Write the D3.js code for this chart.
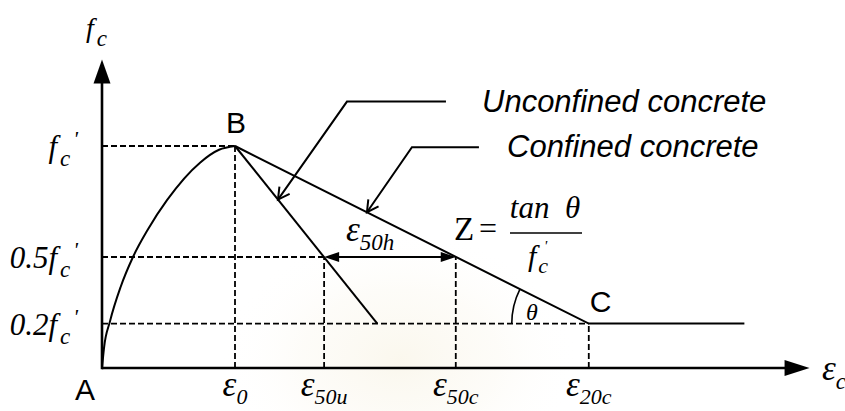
<!DOCTYPE html>
<html><head><meta charset="utf-8">
<script src="https://cdn.jsdelivr.net/npm/d3@7"></script>
<style>html,body{margin:0;padding:0;background:#fff;} svg{display:block;}</style>
</head><body><svg id="chart" width="845" height="411"></svg>
<script>
// Ascending branch A–B, normalised strain (ε/ε0) and stress (fc/f'c)
const ascendingStrain = [0, 0.015, 0.06, 0.14, 0.233, 0.346, 0.49, 0.737, 0.88, 1];
const ascendingStress = [0, 0.09, 0.21, 0.365, 0.5, 0.625, 0.757, 0.925, 0.983, 1];
// Descending branches
const unconfinedStrain = [1, 2.07];
const unconfinedStress = [1, 0.2];
const confinedStrain = [1, 3.66, 4.83];
const confinedStress = [1, 0.2, 0.2];
// Reference strains along the horizontal axis
const strainTickValues = [1, 1.67, 2.66, 3.66];
const strainTickSubs = ["0", "50u", "50c", "20c"];
const strainTickStress = [1, 0.5, 0.5, 0.2];
// Reference stresses along the vertical axis
const stressTickValues = [1, 0.5, 0.2];
const stressTickPrefix = ["", "0.5", "0.2"];
const stressTickStrain = [1, 1.67, 3.66];
// Axis extents
const axisMaxStrain = 5.32, axisMaxStress = 1.39;
// Where the leader arrows touch the branches
const unconfinedPointer = 1.323, confinedPointer = 1.992;

const serif = "'Liberation Serif','Times New Roman',serif";
const sans = "'Liberation Sans',Arial,sans-serif";
const ink = "#000";

const svg = d3.select("#chart");
svg.append("rect").attr("width", 845).attr("height", 411).attr("fill", "#fff");

// faint background emblem haze
const defs = svg.append("defs");
const grad = defs.append("radialGradient").attr("id", "haze");
grad.append("stop").attr("offset", "0%").attr("stop-color", "#f5eed8").attr("stop-opacity", 0.45);
grad.append("stop").attr("offset", "55%").attr("stop-color", "#f8f3e4").attr("stop-opacity", 0.25);
grad.append("stop").attr("offset", "100%").attr("stop-color", "#fff").attr("stop-opacity", 0);
svg.append("ellipse").attr("cx", 400).attr("cy", 360).attr("rx", 180).attr("ry", 130).attr("fill", "url(#haze)");

const x = d3.scaleLinear().domain([0, 1]).range([102, 235]);
const y = d3.scaleLinear().domain([0, 1]).range([368, 146]);

const zip = (a, b) => a.map((v, i) => [v, b[i]]);
const straight = d3.line().x(d => x(d[0])).y(d => y(d[1]));
const smooth = d3.line().x(d => x(d[0])).y(d => y(d[1])).curve(d3.curveMonotoneX);

// dashed reference lines
const dashed = svg.append("g").attr("stroke", ink).attr("stroke-width", 1.8)
  .attr("stroke-dasharray", "6,3").attr("fill", "none");
stressTickValues.forEach((v, i) => {
  dashed.append("line").attr("x1", x(0)).attr("x2", x(stressTickStrain[i]))
    .attr("y1", y(v)).attr("y2", y(v));
});
strainTickValues.forEach((v, i) => {
  dashed.append("line").attr("x1", x(v)).attr("x2", x(v))
    .attr("y1", y(0)).attr("y2", y(strainTickStress[i]));
});

// stress–strain branches
const curves = svg.append("g").attr("stroke", ink).attr("stroke-width", 2).attr("fill", "none");
curves.append("path").attr("d", smooth(zip(ascendingStrain, ascendingStress)));
curves.append("path").attr("d", straight(zip(unconfinedStrain, unconfinedStress)));
curves.append("path").attr("d", straight(zip(confinedStrain, confinedStress)));

// axes with arrowheads
const axes = svg.append("g");
axes.append("line").attr("x1", x(0)).attr("y1", y(0)).attr("x2", x(axisMaxStrain) - 10).attr("y2", y(0))
  .attr("stroke", ink).attr("stroke-width", 2.6);
axes.append("line").attr("x1", x(0)).attr("y1", y(0) + 1.3).attr("x2", x(0)).attr("y2", y(axisMaxStress) + 10)
  .attr("stroke", ink).attr("stroke-width", 2.6);
function filledHead(tip, from, len, half) {
  const dx = tip[0] - from[0], dy = tip[1] - from[1], L = Math.hypot(dx, dy);
  const ux = dx / L, uy = dy / L, bx = tip[0] - ux * len, by = tip[1] - uy * len;
  return `M${tip[0]},${tip[1]}L${bx - uy * half},${by + ux * half}L${bx + uy * half},${by - ux * half}Z`;
}
axes.append("path").attr("d", filledHead([x(axisMaxStrain), y(0)], [x(0), y(0)], 25, 8)).attr("fill", ink);
axes.append("path").attr("d", filledHead([x(0), y(axisMaxStress)], [x(0), y(0)], 24, 8.5)).attr("fill", ink);

// ε50h double arrow
const a0 = [x(strainTickValues[1]), y(0.5)], a1 = [x(strainTickValues[2]), y(0.5)];
svg.append("line").attr("x1", a0[0] + 8).attr("x2", a1[0] - 8).attr("y1", a0[1]).attr("y2", a1[1])
  .attr("stroke", ink).attr("stroke-width", 2);
svg.append("path").attr("d", filledHead(a0, a1, 15, 5)).attr("fill", ink);
svg.append("path").attr("d", filledHead(a1, a0, 15, 5)).attr("fill", ink);

// angle θ at C
const cPt = [x(confinedStrain[1]), y(confinedStress[1])];
const slopeAngle = Math.atan2(y(confinedStress[0]) - cPt[1], cPt[0] - x(confinedStrain[0]));
const arc = d3.path();
arc.arc(cPt[0], cPt[1], 77, Math.PI, Math.PI - slopeAngle, false);
svg.append("path").attr("d", arc.toString()).attr("fill", "none").attr("stroke", ink).attr("stroke-width", 1.6);

// leader arrows
function leader(tip, bend, end) {
  svg.append("path").attr("d", d3.line()([end, bend, tip]))
    .attr("fill", "none").attr("stroke", ink).attr("stroke-width", 2);
  const ang = Math.atan2(tip[1] - bend[1], tip[0] - bend[0]);
  const arms = [0.5, -0.5].map(s => [tip[0] - 13 * Math.cos(ang + s), tip[1] - 13 * Math.sin(ang + s)]);
  svg.append("path").attr("d", `M${arms[0]}L${tip}L${arms[1]}`)
    .attr("fill", "none").attr("stroke", ink).attr("stroke-width", 2);
}
const uTip = [x(unconfinedPointer), y(d3.scaleLinear().domain(unconfinedStrain).range(unconfinedStress)(unconfinedPointer))];
const cTip = [x(confinedPointer), y(d3.scaleLinear().domain(confinedStrain.slice(0, 2)).range(confinedStress.slice(0, 2))(confinedPointer))];
leader(uTip, [uTip[0] + 69, uTip[1] - 98], [uTip[0] + 168, uTip[1] - 98]);
leader(cTip, [cTip[0] + 45, cTip[1] - 65], [cTip[0] + 112, cTip[1] - 65]);

svg.append("text").attr("x", 482).attr("y", 112).attr("font-family", sans).attr("font-style", "italic")
  .attr("font-size", 31).text("Unconfined concrete");
svg.append("text").attr("x", 507).attr("y", 157).attr("font-family", sans).attr("font-style", "italic")
  .attr("font-size", 31).text("Confined concrete");

// point letters
const letter = (t, px, py) => svg.append("text").attr("x", px).attr("y", py)
  .attr("font-family", sans).attr("font-size", 30).text(t);
letter("A", x(0) - 27, y(0) + 32);
letter("B", x(1) - 9, y(1) - 13);
letter("C", cPt[0] + 1, cPt[1] - 12);

// math labels: base + subscript (+ prime)
function mathLabel(px, py, base, sub, prime, anchor, size, subSize, subDy) {
  const t = svg.append("text").attr("x", px).attr("y", py).attr("font-family", serif)
    .attr("font-style", "italic").attr("font-size", size || 30).attr("text-anchor", anchor || "start");
  t.append("tspan").text(base);
  t.append("tspan").attr("font-size", subSize || 22).attr("dx", base.endsWith("f") ? 3 : 0)
    .attr("dy", subDy || 9).text(sub);
  if (prime) t.append("tspan").attr("font-size", 22).attr("dx", 3).attr("dy", -20).text("'");
  return t;
}
mathLabel(86, 37, "f", "c", false, "start", 28, 23);
stressTickValues.forEach((v, i) => mathLabel(78, y(v) + 11, stressTickPrefix[i] + "f", "c", true, "end", 31, 23));
strainTickValues.forEach((v, i) => mathLabel(x(v), 396, "ε", strainTickSubs[i], false, "middle", 35, 22, 8));
mathLabel(822, 380, "ε", "c", false, "start", 35, 23);
mathLabel(346, 241, "ε", "50h", false, "start", 35, 23);

// Z = tan θ / f'c
svg.append("text").attr("x", 454).attr("y", 240).attr("font-family", serif).attr("font-size", 33).text("Z");
svg.append("text").attr("x", 479).attr("y", 239).attr("font-family", serif).attr("font-size", 32).text("=");
svg.append("line").attr("x1", 510).attr("x2", 582).attr("y1", 233).attr("y2", 233)
  .attr("stroke", ink).attr("stroke-width", 1.6);
svg.append("text").attr("x", 545).attr("y", 218).attr("font-family", serif).attr("font-style", "italic")
  .attr("font-size", 31).attr("text-anchor", "middle").attr("xml:space", "preserve").text("tan  θ");
const den = svg.append("text").attr("x", 528).attr("y", 266).attr("font-family", serif)
  .attr("font-style", "italic").attr("font-size", 30);
den.append("tspan").text("f");
den.append("tspan").attr("font-size", 22).attr("dx", 2).attr("dy", 7).text("c");
den.append("tspan").attr("x", 544).attr("y", 251).attr("font-size", 15).text("'");
svg.append("text").attr("x", 526).attr("y", 320).attr("font-family", serif).attr("font-style", "italic")
  .attr("font-size", 24).text("θ");
</script></body></html>
